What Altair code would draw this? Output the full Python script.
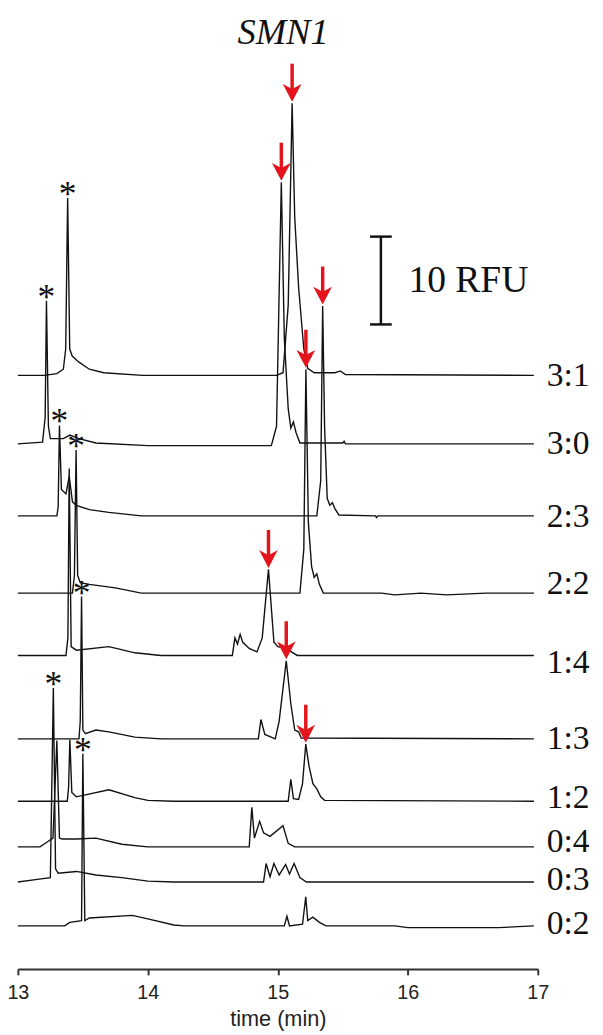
import altair as alt
import pandas as pd

# ---------------- data ----------------
labels = ["3:1", "3:0", "2:3", "2:2", "1:4", "1:3", "1:2", "0:4", "0:3", "0:2"]
offsets = [67.6, 59.8, 51.6, 42.8, 35.7, 26.2, 19.1, 13.9, 9.9, 4.9]  # stacking offset (RFU)
label_pos = [67.2, 59.4, 51.1, 43.5, 34.5, 25.8, 19.1, 14.1, 9.8, 4.8]  # label centres (RFU)

t_31 = [13.0, 13.205, 13.30, 13.35, 13.368, 13.383, 13.399, 13.418, 13.47, 13.55, 13.66, 13.96, 14.99, 15.04, 15.08, 15.11, 15.13, 15.16, 15.20, 15.23, 15.28, 15.44, 15.48, 15.52, 16.97]
v_31 = [0.0, 0.0, 0.2, 0.7, 3.0, 20.2, 3.0, 2.2, 1.5, 0.7, 0.3, 0.0, 0.0, 0.3, 8.0, 31.0, 18.0, 10.0, 3.0, 0.8, 0.3, 0.3, 0.5, 0.1, 0.0]

t_30 = [13.0, 13.19, 13.21, 13.22, 13.235, 13.25, 13.35, 13.40, 13.47, 13.60, 14.0, 14.95, 14.99, 15.027, 15.05, 15.08, 15.10, 15.12, 15.14, 15.17, 15.50, 15.51, 15.52, 16.97]
v_30 = [0.0, 0.2, 3.0, 16.3, 2.0, 0.6, 0.6, 1.0, 0.6, 0.1, -0.2, -0.2, 2.0, 29.8, 12.0, 4.0, 1.8, 2.5, 1.3, 0.1, 0.1, 0.3, 0.0, 0.0]

t_23 = [13.0, 13.30, 13.31, 13.32, 13.335, 13.37, 13.395, 13.42, 13.45, 13.55, 13.70, 13.95, 15.30, 15.33, 15.345, 15.36, 15.38, 15.40, 15.42, 15.44, 15.47, 15.75, 15.76, 15.77, 16.97]
v_23 = [0.0, 0.0, 1.0, 10.3, 3.0, 2.5, 4.5, 1.6, 1.2, 0.7, 0.4, 0.0, 0.0, 4.0, 23.9, 10.0, 2.0, 1.2, 1.5, 0.8, 0.1, 0.0, -0.2, 0.0, 0.0]

t_22 = [13.0, 13.42, 13.435, 13.448, 13.46, 13.48, 13.55, 13.75, 13.95, 15.17, 15.20, 15.216, 15.235, 15.26, 15.28, 15.30, 15.32, 15.35, 15.80, 15.90, 16.10, 16.30, 16.60, 16.97]
v_22 = [0.0, 0.0, 2.0, 16.3, 2.0, 1.2, 1.0, 0.6, 0.0, 0.0, 5.0, 25.5, 8.0, 3.0, 1.8, 2.2, 1.0, 0.0, 0.0, -0.2, 0.0, -0.2, 0.0, 0.0]

t_14 = [13.0, 13.37, 13.385, 13.395, 13.41, 13.45, 13.70, 13.90, 14.10, 14.65, 14.67, 14.69, 14.71, 14.73, 14.78, 14.84, 14.88, 14.928, 14.97, 15.0, 15.06, 15.15, 16.97]
v_14 = [0.0, 0.0, 2.0, 21.3, 1.0, 0.6, 1.0, 0.3, 0.0, 0.0, 2.0, 1.3, 2.4, 1.5, 0.8, 0.4, 2.0, 9.8, 1.5, 1.0, 0.8, 0.0, 0.0]

t_13 = [13.0, 13.47, 13.48, 13.49, 13.50, 13.52, 13.60, 13.70, 13.90, 14.10, 14.85, 14.87, 14.90, 14.98, 15.01, 15.065, 15.10, 15.13, 15.16, 15.18, 16.97]
v_13 = [0.0, 0.0, 2.0, 16.2, 1.0, 0.6, 1.0, 0.8, 0.2, 0.0, 0.0, 2.2, 0.5, 0.0, 2.0, 8.9, 4.0, 1.0, 0.8, 0.1, 0.0]

t_12 = [13.0, 13.38, 13.39, 13.40, 13.415, 13.45, 13.70, 13.90, 14.0, 14.2, 15.08, 15.10, 15.12, 15.16, 15.19, 15.215, 15.24, 15.27, 15.30, 15.33, 15.36, 16.97]
v_12 = [0.0, 0.0, 1.5, 7.0, 1.0, 0.5, 1.3, 0.4, 0.1, 0.0, 0.0, 2.5, 0.3, 0.2, 2.0, 6.5, 4.0, 2.0, 1.4, 0.5, 0.1, 0.0]

t_04 = [13.0, 13.17, 13.22, 13.27, 13.30, 13.32, 13.34, 13.45, 13.60, 13.80, 14.0, 14.78, 14.80, 14.82, 14.86, 14.89, 14.94, 15.04, 15.08, 15.13, 16.97]
v_04 = [0.0, 0.0, 0.5, 1.0, 12.1, 1.0, 0.9, 0.9, 1.0, 0.3, 0.0, 0.0, 4.5, 1.0, 2.9, 1.6, 1.2, 2.4, 0.4, 0.0, 0.0]

t_03 = [13.0, 13.15, 13.25, 13.273, 13.29, 13.31, 13.45, 13.60, 13.80, 14.0, 14.2, 14.89, 14.91, 14.94, 14.97, 15.01, 15.06, 15.09, 15.125, 15.17, 15.22, 16.97]
v_03 = [0.0, 0.3, 0.5, 22.1, 1.5, 1.0, 1.2, 0.8, 0.5, 0.1, 0.0, 0.0, 2.1, 0.6, 2.1, 0.8, 2.0, 0.9, 2.1, 0.5, 0.0, 0.0]

t_02 = [13.0, 13.36, 13.40, 13.49, 13.50, 13.515, 13.55, 13.88, 14.0, 14.2, 14.28, 15.05, 15.07, 15.09, 15.19, 15.215, 15.23, 15.27, 15.32, 15.37, 15.9, 16.0, 16.7, 16.97]
v_02 = [0.0, 0.0, 0.4, 0.6, 19.6, 0.6, 0.9, 1.2, 0.8, 0.1, 0.0, 0.0, 1.1, 0.0, 0.2, 3.3, 0.6, 1.0, 0.4, 0.0, 0.0, -0.2, -0.2, 0.0]

times = [t_31, t_30, t_23, t_22, t_14, t_13, t_12, t_04, t_03, t_02]
values = [v_31, v_30, v_23, v_22, v_14, v_13, v_12, v_04, v_03, v_02]

# SMN1 peaks marked with red arrows: (trace, time)
arrow_trace = ["3:1", "3:0", "2:3", "2:2", "1:4", "1:3", "1:2"]
arrow_time = [15.11, 15.027, 15.345, 15.216, 14.928, 15.065, 15.215]

# peaks marked with an asterisk: (trace, time)
star_trace = ["3:1", "3:0", "2:3", "2:2", "1:3", "0:3", "0:2"]
star_time = [13.383, 13.22, 13.32, 13.448, 13.49, 13.273, 13.50]

scalebar_time = [15.793]
scalebar_low = [73.4]
scalebar_rfu = [10]

# ---------------- build tables ----------------
rows = []
for lab, off, ts, vs in zip(labels, offsets, times, values):
    for i, (t, v) in enumerate(zip(ts, vs)):
        rows.append({"trace": lab, "i": i, "t": t, "y": off + v})
traces = pd.DataFrame(rows)

def peak_top(lab, t):
    k = labels.index(lab)
    ts, vs = times[k], values[k]
    j = min(range(len(ts)), key=lambda n: abs(ts[n] - t))
    return ts[j], offsets[k] + vs[j]

arr = pd.DataFrame([dict(zip(["t", "tip"], peak_top(a, b))) for a, b in zip(arrow_trace, arrow_time)])
stars = pd.DataFrame([dict(zip(["t", "tip"], peak_top(a, b))) for a, b in zip(star_trace, star_time)])
lab_df = pd.DataFrame({"label": labels, "y": label_pos, "t": [17.0] * len(labels)})
sb = pd.DataFrame({"t": scalebar_time, "lo": scalebar_low, "hi": [scalebar_low[0] + scalebar_rfu[0]],
                   "txt": [f"{scalebar_rfu[0]} RFU"]})

W, H = 527, 967
PXR = 8.9  # pixels per RFU
PXT = W / 4  # pixels per minute
YMAX = H / PXR

xs = alt.Scale(domain=[13, 17], nice=False, zero=False)
ys = alt.Scale(domain=[0, YMAX], nice=False, zero=False)
xaxis = alt.Axis(values=[13, 14, 15, 16, 17], format="d", title="time (min)", grid=False,
                 domainColor="#333", domainWidth=2, tickColor="#333", tickWidth=2,
                 tickSize=6, labelFont="Liberation Sans", labelFontSize=20, labelFlush=False,
                 labelColor="#222", labelPadding=8, titleFont="Liberation Sans",
                 titleFontSize=22, titleFontWeight="normal", titleColor="#222",
                 titlePadding=6)
X = alt.X("t:Q", scale=xs, axis=xaxis)
Y = alt.Y("y:Q", scale=ys, axis=None)

lines = alt.Chart(traces).mark_line(color="#111", strokeWidth=1.4).encode(
    x=X, y=Y, detail="trace:N", order="i:Q")

shaft = alt.Chart(arr).transform_calculate(top=f"datum.tip + {40 / PXR}", bot=f"datum.tip + {12 / PXR}").mark_rule(
    color="#e3141c", strokeWidth=3.5).encode(x=X, y=alt.Y("top:Q", scale=ys, axis=None), y2="bot:Q")
head = alt.Chart(arr).transform_calculate(hy=f"datum.tip + {11 / PXR}").mark_point(
    shape="M-1,-0.9L0,-0.35L1,-0.9L0,1Z", filled=True, color="#e3141c", size=360, opacity=1).encode(
    x=X, y=alt.Y("hy:Q", scale=ys, axis=None))

star = alt.Chart(stars).mark_text(text="*", font="Liberation Serif", fontSize=36, color="#111",
                                  baseline="alphabetic", dy=8).encode(x=X, y=alt.Y("tip:Q", scale=ys, axis=None))

labs = alt.Chart(lab_df).mark_text(font="Liberation Serif", fontSize=34, color="#111", align="left",
                                   baseline="middle", dx=9, dy=-3).encode(x=X, y=Y, text="label:N")

sb_v = alt.Chart(sb).mark_rule(color="#111", strokeWidth=2.5).encode(
    x=X, y=alt.Y("lo:Q", scale=ys, axis=None), y2="hi:Q")
half = 11 / PXT
sb_c = alt.Chart(sb).transform_fold(["lo", "hi"], as_=["end", "yy"]).transform_calculate(
    a=f"datum.t - {half}", b=f"datum.t + {half}").mark_rule(color="#111", strokeWidth=2.5).encode(
    x=alt.X("a:Q", scale=xs, axis=xaxis), x2="b:Q", y=alt.Y("yy:Q", scale=ys, axis=None))
sb_t = alt.Chart(sb).transform_calculate(mid="(datum.lo + datum.hi) / 2").mark_text(
    font="Liberation Serif", fontSize=38, color="#111", align="left", baseline="middle", dx=28, dy=1).encode(
    x=X, y=alt.Y("mid:Q", scale=ys, axis=None), text="txt:N")

title_df = pd.DataFrame({"t": [15.04], "y": [105.96], "txt": ["SMN1"]})
ttl = alt.Chart(title_df).mark_text(font="Liberation Serif", fontSize=37, fontStyle="italic", color="#111",
                                    align="center", baseline="middle", dy=-5).encode(x=X, y=Y, text="txt:N")

chart = alt.layer(lines, shaft, head, star, labs, sb_v, sb_c, sb_t, ttl).properties(
    width=W, height=H,
    padding={"left": 10, "top": 0, "right": 58, "bottom": 60},
    autosize=alt.AutoSizeParams(type="none"),
).configure_view(stroke=None)

chart.save("out.html", embed_options={"renderer": "svg", "actions": False})
